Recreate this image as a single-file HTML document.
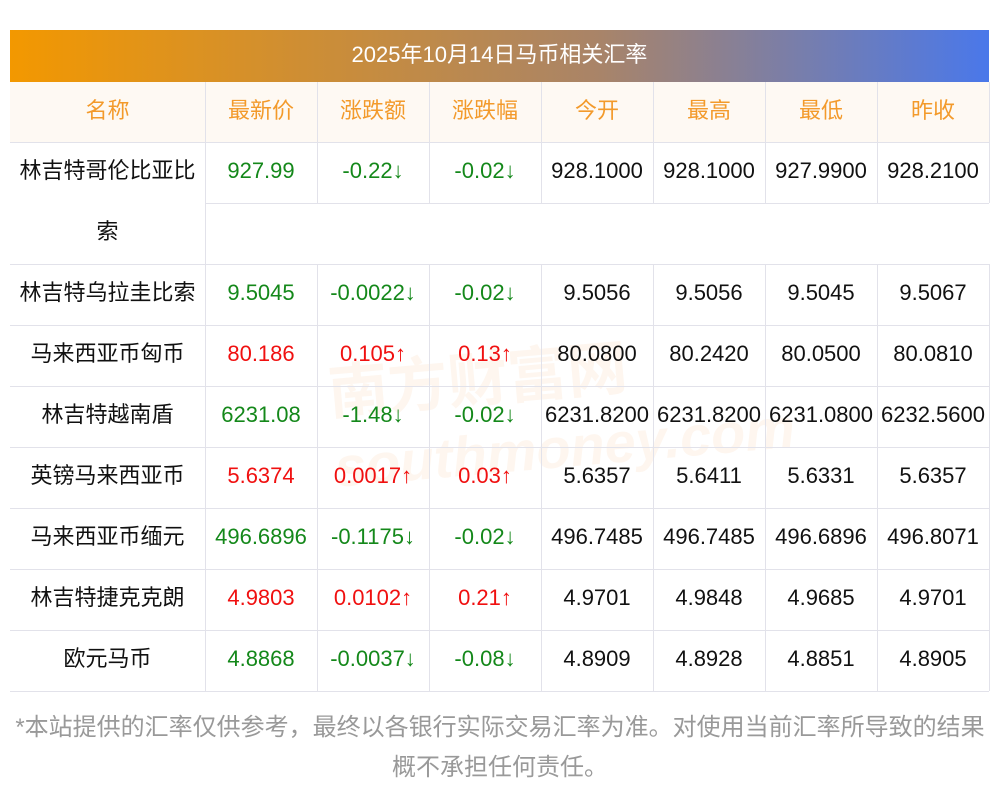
<!DOCTYPE html>
<html><head><meta charset="utf-8"><style>
body{margin:0;width:1000px;height:793px;background:#fff;position:relative;font-family:"Liberation Sans","Noto Sans CJK SC",sans-serif;overflow:hidden}
.bar{position:absolute;left:10px;top:30px;width:979px;height:52px;background:linear-gradient(90deg,#f39800,#a98468 60%,#4a78ea);color:#fff;font-size:22px;line-height:50px;text-align:center}
.hd{position:absolute;left:10px;top:82px;width:979px;height:60px;background:#fef9f3}
.c{position:absolute;text-align:center;font-size:22px;line-height:58px;height:61px;white-space:nowrap}
.h{color:#f39a2b}
.g{color:#14881a}.r{color:#f01010}.k{color:#111}
.hl{position:absolute;height:1px;background:#e2e2ea}
.vl{position:absolute;width:1px;background:#e2e2ea}
.wm{position:absolute;left:330px;top:325px;font-size:60px;color:rgba(240,150,80,.09);font-weight:bold;transform:rotate(-5deg)}
.foot{position:absolute;left:0;width:1000px;text-align:center;font-size:24px;color:#999}
</style></head><body>
<div class="bar">2025年10月14日马币相关汇率</div>
<div class="hd"></div>
<div class="wm">南方财富网<br><span style="font-size:56px;font-style:italic">southmoney.com</span></div>
<div id="t"></div>
<div class="foot" style="top:707px">*本站提供的汇率仅供参考，最终以各银行实际交易汇率为准。对使用当前汇率所导致的结果</div>
<div class="foot" style="top:747px">概不承担任何责任。</div>
<script>
var xs=[10,205,317,429,541,653,765,877,989];
var H=["名称","最新价","涨跌额","涨跌幅","今开","最高","最低","昨收"];
var R=[
["林吉特哥伦比亚比","927.99","-0.22↓","-0.02↓","928.1000","928.1000","927.9900","928.2100","g"],
["林吉特乌拉圭比索","9.5045","-0.0022↓","-0.02↓","9.5056","9.5056","9.5045","9.5067","g"],
["马来西亚币匈币","80.186","0.105↑","0.13↑","80.0800","80.2420","80.0500","80.0810","r"],
["林吉特越南盾","6231.08","-1.48↓","-0.02↓","6231.8200","6231.8200","6231.0800","6232.5600","g"],
["英镑马来西亚币","5.6374","0.0017↑","0.03↑","5.6357","5.6411","5.6331","5.6357","r"],
["马来西亚币缅元","496.6896","-0.1175↓","-0.02↓","496.7485","496.7485","496.6896","496.8071","g"],
["林吉特捷克克朗","4.9803","0.0102↑","0.21↑","4.9701","4.9848","4.9685","4.9701","r"],
["欧元马币","4.8868","-0.0037↓","-0.08↓","4.8909","4.8928","4.8851","4.8905","g"]];
var ys=[142,264,325,386,447,508,569,630];
var h="";
function cell(i,y,t,cls){h+='<div class="c '+cls+'" style="left:'+xs[i]+'px;width:'+(xs[i+1]-xs[i])+'px;top:'+y+'px">'+t+'</div>';}
H.forEach(function(t,i){cell(i,82,t,"h");});
R.forEach(function(r,j){var y=ys[j];for(var i=0;i<8;i++){cell(i,y,r[i],i==0||i>3?"k":r[8]);}});
cell(0,203,"索","k");
[142,203,264,325,386,447,508,569,630,691].forEach(function(y){var l=(y==203)?205:10;h+='<div class="hl" style="left:'+l+'px;width:'+(989-l)+'px;top:'+y+'px"></div>';});
h+='<div class="vl" style="left:205px;top:82px;height:609px"></div>';
for(var i=2;i<9;i++){h+='<div class="vl" style="left:'+xs[i]+'px;top:82px;height:121px"></div><div class="vl" style="left:'+xs[i]+'px;top:264px;height:427px"></div>';}
document.getElementById("t").innerHTML=h;
</script>
</body></html>
